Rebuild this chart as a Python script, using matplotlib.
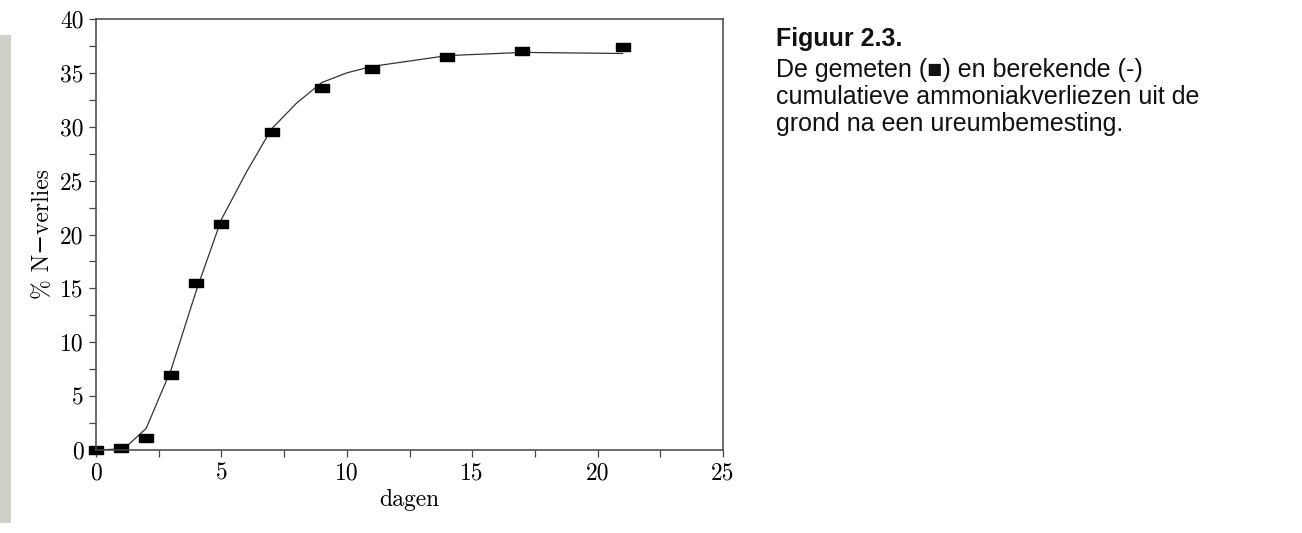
import matplotlib
matplotlib.use("Agg")
import matplotlib.pyplot as plt
from matplotlib.patches import Rectangle
from matplotlib.path import Path

# gemeten waarden (markers)
dagen_gemeten = [0, 1, 2, 3, 4, 5, 7, 9, 11, 14, 17, 21]
verlies_gemeten = [0.0, 0.2, 1.1, 7.0, 15.5, 21.0, 29.5, 33.6, 35.4, 36.5, 37.0, 37.4]

# berekende curve (lijn)
dagen_berekend = [0, 1, 1.25, 2, 3, 4, 5, 6, 7, 8, 9, 10, 11, 14, 17, 21]
verlies_berekend = [0.0, 0.1, 0.4, 2.0, 7.5, 14.8, 21.4, 25.8, 29.8, 32.2, 34.1, 35.0, 35.6, 36.6, 36.9, 36.8]

x_ticks = [0, 5, 10, 15, 20, 25]
y_ticks = [0, 5, 10, 15, 20, 25, 30, 35, 40]

caption_title = "Figuur 2.3."
caption_lines = [
    "De gemeten (\u25A0) en berekende (-)",
    "cumulatieve ammoniakverliezen uit de",
    "grond na een ureumbemesting.",
]

plt.rcParams['font.family'] = ['cmr10', 'DejaVu Serif']
plt.rcParams['axes.unicode_minus'] = False

W, H = 1302, 533
fig = plt.figure(figsize=(W / 100, H / 100), dpi=100)
fig.patch.set_facecolor('white')

# grijze strook links (scan-rand)
fig.patches.append(Rectangle((0, 1 - 523 / H), 11 / W, (523 - 35) / H,
                             transform=fig.transFigure, facecolor='#cfd0c7',
                             edgecolor='none'))

ax = fig.add_axes([96 / W, 1 - 450 / H, (723 - 96) / W, (450 - 19) / H])

# brede rechthoekige marker
rect = Path([(-1, -0.6), (1, -0.6), (1, 0.6), (-1, 0.6), (-1, -0.6)],
            [Path.MOVETO, Path.LINETO, Path.LINETO, Path.LINETO, Path.CLOSEPOLY])

ax.plot(dagen_berekend, verlies_berekend, color='#333333', linewidth=0.9)
ax.plot(dagen_gemeten, verlies_gemeten, linestyle='none', marker=rect,
        markersize=9.5, color='black', clip_on=False)

ax.set_xlim(0, 25)
ax.set_ylim(0, 40)
ax.set_xticks(x_ticks)
ax.set_yticks(y_ticks)
ax.set_xticks([2.5, 7.5, 12.5, 17.5, 22.5], minor=True)
ax.set_yticks([2.5, 7.5, 12.5, 17.5, 22.5, 27.5, 32.5, 37.5], minor=True)
ax.tick_params(which='both', direction='out', length=5, width=0.9,
               color='#444444', labelsize=17, pad=4)

for s in ax.spines.values():
    s.set_color('#444444')
    s.set_linewidth(1.1)

ax.set_xlabel("dagen", fontsize=17, labelpad=3)
ax.set_ylabel("% N\u2212verlies", fontsize=17, labelpad=4)

# bijschrift rechts
cap_font = ['Liberation Sans', 'DejaVu Sans']
fig.text(776 / W, 1 - 46 / H, caption_title, fontsize=18, fontweight='bold',
         family=cap_font, va='baseline', ha='left', color='#111111')
for line, base in zip(caption_lines, [77, 104, 131]):
    fig.text(776 / W, 1 - base / H, line, fontsize=18,
             family=cap_font, va='baseline', ha='left', color='#111111')

fig.savefig("out.png", dpi=100)
